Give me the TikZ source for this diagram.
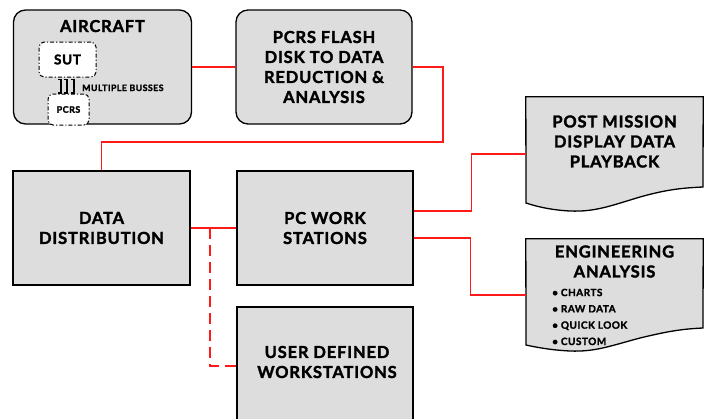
\documentclass[tikz,border=0pt]{standalone}
\usepackage{fontspec}
\setmainfont{Lato}[LetterSpace=5, BoldFeatures={FakeBold=1.8}]
\definecolor{boxgray}{HTML}{DDDDDD}
\definecolor{linkred}{HTML}{FF1A1A}
\begin{document}
\begin{tikzpicture}[x=1pt,y=-1pt,
  bigfont/.style={font=\bfseries\fontsize{16.5}{20}\selectfont},
  box/.style={draw=black, line width=1.3pt, fill=boxgray, inner sep=0pt, align=center, bigfont},
  rbox/.style={box, rounded corners=12pt},
  docbox/.style={inner sep=0pt, minimum width=177pt},
  txt/.style={align=center, inner sep=0pt, bigfont},
  smallbox/.style={draw=black, line width=1pt, fill=white, rounded corners=5pt, inner sep=0pt,
     dash pattern=on 4pt off 2pt on 1.2pt off 2pt},
  link/.style={draw=linkred, line width=1.6pt},
  dlink/.style={link, dash pattern=on 11pt off 6pt}]
\useasboundingbox (0,0) rectangle (706,418);
\clip (0,0) rectangle (706,418);

% boxes
\node[rbox, minimum width=178pt, minimum height=114pt] (aircraft) at (102.5,67) {};
\node[txt, anchor=base] (airlbl) at (102.5,32) {AIRCRAFT};
\node[smallbox, minimum width=57pt, minimum height=35pt, font=\bfseries\fontsize{13.5}{15}\selectfont] (sut) at (67.5,59.5) {SUT};
\node[smallbox, minimum width=41pt, minimum height=31pt, font=\bfseries\fontsize{9}{10}\selectfont] (pcrs) at (68.5,109.5) {PCRS};
\foreach \bx in {61,67,74}{
  \draw[line width=1.1pt] (\bx-3,79.5) -- (\bx,79.5) -- (\bx,93) -- (\bx-3,93);
}
\node[anchor=base west, inner sep=0pt, font=\bfseries\fontsize{8.8}{10}\selectfont] (busses) at (82,91) {MULTIPLE BUSSES};

\node[rbox, minimum width=176pt, minimum height=114pt] (flash) at (324,67) {PCRS FLASH\\DISK TO DATA\\REDUCTION \&\\ANALYSIS};

\node[box, minimum width=177pt, minimum height=114pt] (dd) at (101.5,228) {DATA\\DISTRIBUTION};
\node[box, minimum width=176pt, minimum height=114pt] (pc) at (325,228) {PC WORK\\STATIONS};
\node[box, minimum width=176pt, minimum height=118pt] (udw) at (325,366) {};
\node[txt] (udwlbl) at (327,362) {USER DEFINED\\WORKSTATIONS};

% document shapes
\node[docbox, minimum height=114pt] (pm) at (614.5,154) {};
\draw[line width=1.3pt, fill=boxgray] (pm.north west) -- (pm.north east) -- (703,187)
  .. controls (680,188) and (665,190) .. (640,197)
  .. controls (610,206) and (595,212) .. (570,211)
  .. controls (550,210) and (535,206) .. (526,203) -- cycle;
\node[txt] (pmlbl) at (614.5,141.5) {POST MISSION\\DISPLAY DATA\\PLAYBACK};

\node[docbox, minimum height=112pt] (ea) at (614.5,295) {};
\draw[line width=1.3pt, fill=boxgray] (ea.north west) -- (ea.north east) -- (703,328)
  .. controls (680,329) and (665,332) .. (640,338)
  .. controls (610,346) and (595,352) .. (570,351)
  .. controls (550,350) and (535,347) .. (526,345) -- cycle;
\node[txt] (ealbl) at (614.5,261.5) {ENGINEERING\\ANALYSIS};
\node[anchor=base west, align=left, inner sep=0pt, font=\bfseries\fontsize{10}{16.3}\selectfont] (eabul) at (552,345)
  {\textbullet\ CHARTS\\\textbullet\ RAW DATA\\\textbullet\ QUICK LOOK\\\textbullet\ CUSTOM};

% connectors
\coordinate (j1) at (443,142);
\coordinate (j2) at (210,228);
\draw[link] (aircraft.east) -- (flash.west);
\draw[link] (flash.east) -| (j1) -| (dd.north);
\draw[link] (dd.east) -- (pc.west);
\draw[dlink] (j2) |- (udw.west);
\coordinate (p1) at ([yshift=17pt]pc.east);
\coordinate (p2) at ([yshift=-10pt]pc.east);
\draw[link] (p1) -- ++(58,0) |- (pm.west);
\draw[link] (p2) -- ++(57,0) |- (ea.west);
\end{tikzpicture}
\end{document}
